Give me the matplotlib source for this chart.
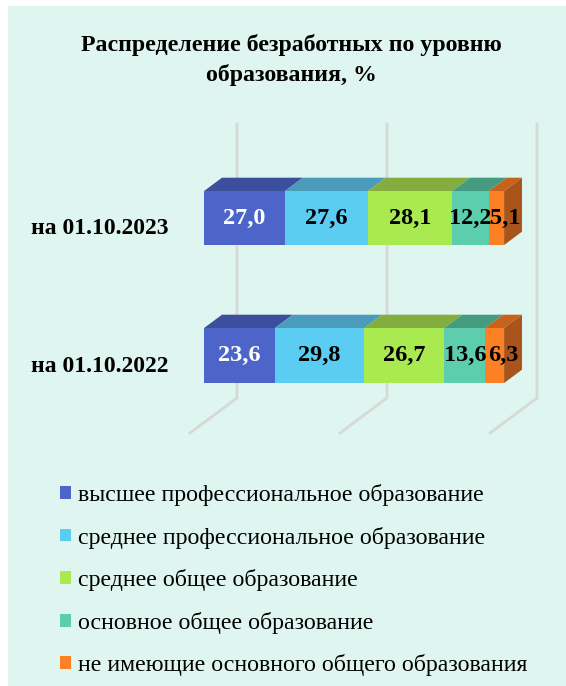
import matplotlib

matplotlib.use("Agg")
import matplotlib.pyplot as plt
from matplotlib.patches import Polygon, Patch, Rectangle

plt.rcParams["font.family"] = ["Liberation Serif", "DejaVu Serif"]

TITLE = "Распределение безработных по уровню\nобразования, %"
ROWS = ["на 01.10.2023", "на 01.10.2022"]
SERIES = [
    "высшее профессиональное образование",
    "среднее профессиональное образование",
    "среднее общее образование",
    "основное общее образование",
    "не имеющие основного общего образования",
]
VALUES_2023 = [27.0, 27.6, 28.1, 12.2, 5.1]
VALUES_2022 = [23.6, 29.8, 26.7, 13.6, 6.3]
GRID_TICKS = [0, 50, 100]

FRONT = ["#4d64c8", "#5ccdf2", "#a8ea50", "#5ccead", "#fd8124"]
TOP = ["#3c4f9c", "#4a9cba", "#83ad3e", "#449b80", "#c66219"]
SIDE = "#a9541a"
LABEL_COLORS = ["white", "black", "black", "black", "black"]
BG = "#dff5ef"

# pseudo-3d projection: x in percent, y in pixels at floor front (z=0)
DX = 47 / 3.0   # depth shift, percent units
DY = 35.0       # depth shift, pixels
Z_FRONT, Z_BACK = 0.3, 0.68
ROW_Y = [(201.5, 255.5), (338.5, 393.5)]  # (top, bottom) at z=0
FLOOR_Y, WALL_TOP = 433, 159


def proj(x, y, z):
    return (x + z * DX, y - z * DY)


fig = plt.figure(figsize=(5.66, 6.86), dpi=100, facecolor="white")
fig.patches.append(Rectangle((8 / 566, 0), 1, 1 - 6 / 686, transform=fig.transFigure,
                             facecolor=BG, edgecolor="none", zorder=-10))

ax = fig.add_axes([0, 0, 1, 1])
ax.patch.set_alpha(0)
ax.set_xlim(-190 / 3.0, (566 - 190) / 3.0)
ax.set_ylim(686, 0)
ax.axis("off")

for t in GRID_TICKS:
    pts = [proj(t, FLOOR_Y, 0), proj(t, FLOOR_Y, 1), proj(t, WALL_TOP, 1)]
    ax.plot([p[0] for p in pts], [p[1] for p in pts], color="#d6d9d8", lw=2, zorder=1,
            solid_joinstyle="miter")

for (top, bot), vals, name in zip(ROW_Y, [VALUES_2023, VALUES_2022], ROWS):
    left = 0.0
    for i, v in enumerate(vals):
        right = left + v
        front = [proj(left, top, Z_FRONT), proj(right, top, Z_FRONT),
                 proj(right, bot, Z_FRONT), proj(left, bot, Z_FRONT)]
        topf = [proj(left, top, Z_FRONT), proj(right, top, Z_FRONT),
                proj(right, top, Z_BACK), proj(left, top, Z_BACK)]
        ax.add_patch(Polygon(topf, closed=True, facecolor=TOP[i], edgecolor="none", zorder=2))
        ax.add_patch(Polygon(front, closed=True, facecolor=FRONT[i], edgecolor="none", zorder=3))
        cx = (left + right) / 2 + Z_FRONT * DX
        if i == len(vals) - 1:
            side = [proj(right, top, Z_FRONT), proj(right, bot, Z_FRONT),
                    proj(right, bot, Z_BACK), proj(right, top, Z_BACK)]
            ax.add_patch(Polygon(side, closed=True, facecolor=SIDE, edgecolor="none", zorder=2))
            cx = (left + Z_FRONT * DX + right + Z_BACK * DX) / 2
        cy = (top + bot) / 2 - Z_FRONT * DY
        ax.text(cx, cy, f"{v:.1f}".replace(".", ","), ha="center", va="center",
                fontsize=17.5, fontweight="bold", color=LABEL_COLORS[i], zorder=5)
        left = right
    # row labels sit a little below the bar centre
    ax.text(-53, (top + bot) / 2 - Z_FRONT * DY + 11, name, ha="left", va="center",
            fontsize=17, fontweight="bold", color="black")

fig.text(291 / 566, 1 - 60 / 686, TITLE, ha="center", va="center", fontsize=17.2,
         fontweight="bold", linespacing=1.45)

handles = [Patch(facecolor=c, edgecolor="none") for c in FRONT]
fig.legend(handles, SERIES, loc="upper left", bbox_to_anchor=(60 / 566, 1 - 484 / 686),
           frameon=False, fontsize=17.2, handlelength=0.45, handleheight=0.45,
           handletextpad=0.3, labelspacing=0.86, borderaxespad=0, borderpad=0)

fig.savefig("out.png", dpi=100, facecolor=fig.get_facecolor())
